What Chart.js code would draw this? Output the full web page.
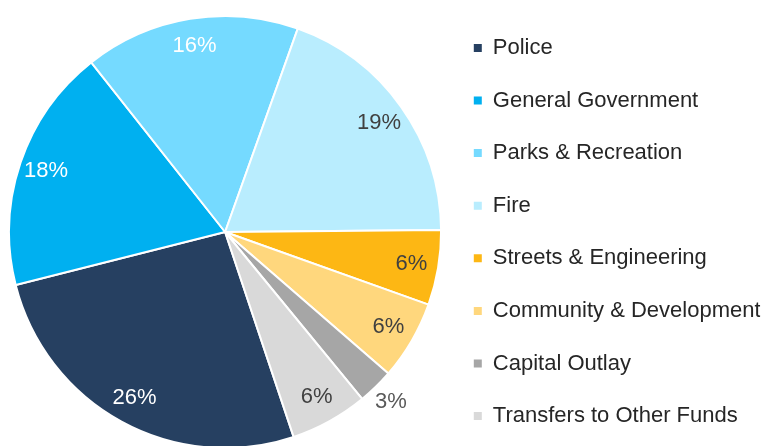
<!DOCTYPE html>
<html lang="en">
<head>
    <meta charset="UTF-8">
    <title>Expenditures by Function</title>
    <script src="https://cdn.jsdelivr.net/npm/chart.js"></script>
    <style>
        html, body {
            margin: 0;
            padding: 0;
            background: #ffffff;
            overflow: hidden;
        }
        .wrap {
            width: 763px;
            height: 464px;
        }
    </style>
</head>
<body>
    <div class="wrap">
        <canvas id="pieChart" width="763" height="464"></canvas>
    </div>

    <script>
        // share of total, percent
        const categories = ['Police', 'General Government', 'Parks & Recreation', 'Fire',
            'Streets & Engineering', 'Community & Development', 'Capital Outlay', 'Transfers to Other Funds'];
        const shares = [26.2, 18.3, 16.1, 19.4, 5.6, 5.9, 2.7, 5.8];
        const sliceColors = ['#264061', '#00B0F0', '#75DAFF', '#B9EDFE',
            '#FDB714', '#FFD77D', '#A6A6A6', '#D9D9D9'];
        const labelColors = ['#ffffff', '#ffffff', '#ffffff', '#404040',
            '#404040', '#404040', '#595959', '#404040'];

        const FONT = "'Liberation Sans', Arial, sans-serif";

        // percent labels on the slices; the small ones sit outside
        const sliceLabels = {
            id: 'sliceLabels',
            afterDatasetsDraw(chart) {
                const ctx = chart.ctx;
                const meta = chart.getDatasetMeta(0);
                const total = shares.reduce((a, b) => a + b, 0);
                ctx.save();
                ctx.font = '22px ' + FONT;
                ctx.textAlign = 'center';
                ctx.textBaseline = 'middle';
                meta.data.forEach((arc, i) => {
                    const p = arc.getProps(['x', 'y', 'startAngle', 'endAngle', 'outerRadius'], true);
                    const mid = (p.startAngle + p.endAngle) / 2;
                    const pct = shares[i] / total * 100;
                    const f = pct < 4 ? 1.1 : 0.875;
                    const x = p.x + Math.cos(mid) * p.outerRadius * f;
                    const y = p.y + Math.sin(mid) * p.outerRadius * f;
                    ctx.fillStyle = labelColors[i];
                    ctx.fillText(Math.round(pct) + '%', x, y);
                });
                ctx.restore();
            }
        };

        new Chart(document.getElementById('pieChart'), {
            type: 'pie',
            data: {
                labels: categories,
                datasets: [{
                    data: shares,
                    backgroundColor: sliceColors,
                    borderColor: '#ffffff',
                    borderWidth: 2
                }]
            },
            options: {
                responsive: false,
                animation: false,
                rotation: 161.5,
                radius: 216,
                layout: { padding: { left: 7, right: 2.8, top: 0, bottom: 0 } },
                plugins: {
                    tooltip: { enabled: false },
                    legend: {
                        position: 'right',
                        align: 'center',
                        maxWidth: 317,
                        labels: {
                            boxWidth: 8,
                            boxHeight: 8,
                            padding: 30.6,
                            color: '#262626',
                            font: { family: FONT, size: 22, lineHeight: 1.0 },
                            generateLabels(chart) {
                                return categories.map((name, i) => ({
                                    text: name,
                                    fillStyle: sliceColors[i],
                                    strokeStyle: sliceColors[i],
                                    lineWidth: 0,
                                    fontColor: '#262626',
                                    hidden: false,
                                    index: i
                                }));
                            }
                        }
                    }
                }
            },
            plugins: [sliceLabels]
        });
    </script>
</body>
</html>
